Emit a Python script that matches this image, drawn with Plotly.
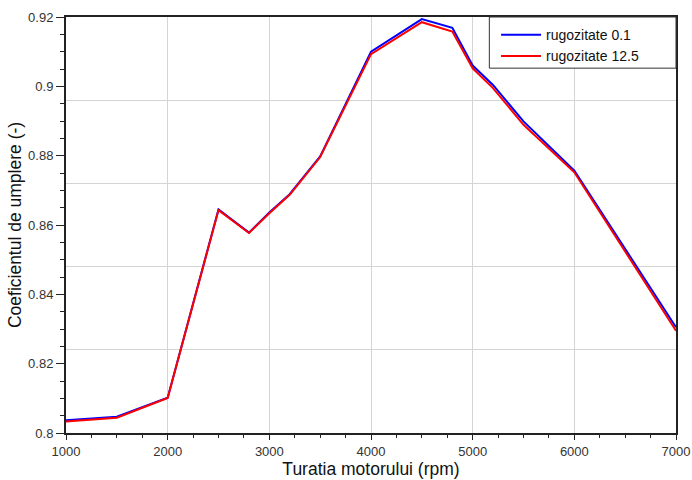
import plotly.graph_objects as go

rpm = [1000, 1500, 2000, 2500, 2800, 3000, 3200, 3500, 4000, 4500, 4800, 5000, 5200, 5500, 6000, 7000]
rug_01 = [0.8037, 0.8047, 0.8102, 0.8645, 0.8578, 0.8636, 0.8689, 0.8798, 0.9100, 0.9194, 0.9169, 0.9060, 0.9004, 0.8899, 0.8757, 0.8305]
rug_125 = [0.8033, 0.8044, 0.8101, 0.8643, 0.8577, 0.8634, 0.8687, 0.8796, 0.9093, 0.9185, 0.9158, 0.9052, 0.8995, 0.8889, 0.8752, 0.8295]

y_ticks = [0.8, 0.82, 0.84, 0.86, 0.88, 0.9, 0.92]
y_tick_text = ["0.8", "0.82", "0.84", "0.86", "0.88", "0.9", "0.92"]
y_grid = [0.824, 0.848, 0.872, 0.896]
x_ticks = [1000, 2000, 3000, 4000, 5000, 6000, 7000]

fig = go.Figure()
fig.add_trace(go.Scatter(x=rpm, y=rug_01, mode="lines", name="rugozitate 0.1",
                         line=dict(color="#0000ff", width=2)))
fig.add_trace(go.Scatter(x=rpm, y=rug_125, mode="lines", name="rugozitate 12.5",
                         line=dict(color="#ff0000", width=2)))
# helper trace so the grid-only overlay axis exists
fig.add_trace(go.Scatter(x=[None], y=[None], yaxis="y2", showlegend=False, hoverinfo="skip"))

# legend frame drawn as a box in paper coordinates
fig.add_shape(type="rect", xref="paper", yref="paper", x0=0.694, x1=1.0, y0=0.877, y1=1.0,
              line=dict(color="#333333", width=1), fillcolor="white", layer="above")

font_family = "Liberation Sans, Arial, sans-serif"
fig.update_layout(
    width=692, height=480,
    margin=dict(l=66, r=16, t=17, b=47),
    paper_bgcolor="white", plot_bgcolor="white",
    font=dict(family=font_family, color="#333333", size=13),
    showlegend=True,
    legend=dict(x=0.705, y=0.995, xanchor="left", yanchor="top",
                borderwidth=0, bgcolor="rgba(0,0,0,0)",
                font=dict(size=14, color="#111111"), itemwidth=40,
                tracegroupgap=0),
    xaxis=dict(range=[1000, 7000], tickvals=x_ticks, ticktext=[str(v) for v in x_ticks],
               showgrid=True, gridcolor="#d4d4d4", gridwidth=1, automargin=False,
               showline=True, linecolor="#222222", linewidth=2, mirror=True,
               ticks="outside", ticklen=5, tickcolor="#222222",
               minor=dict(dtick=250, tick0=1000, ticks="outside", ticklen=3, tickcolor="#222222", showgrid=False),
               zeroline=False,
               title=dict(text="Turatia motorului (rpm)", font=dict(size=17.5, color="#111111"), standoff=3),
               tickfont=dict(size=13, color="#333333")),
    yaxis=dict(range=[0.8, 0.92], tickvals=y_ticks, ticktext=y_tick_text,
               showgrid=False, automargin=False,
               showline=True, linecolor="#222222", linewidth=2, mirror=True,
               ticks="outside", ticklen=8, tickcolor="#222222",
               minor=dict(dtick=0.005, tick0=0.8, ticks="outside", ticklen=4, tickcolor="#222222", showgrid=False),
               zeroline=False,
               title=dict(text="Coeficientul de umplere (-)", font=dict(size=17.5, color="#111111"), standoff=2),
               tickfont=dict(size=13, color="#333333")),
    yaxis2=dict(range=[0.8, 0.92], overlaying="y", side="left", anchor="x",
                tickvals=y_grid, showticklabels=False, ticks="", automargin=False,
                showgrid=True, gridcolor="#d4d4d4", gridwidth=1,
                showline=False, zeroline=False),
)

fig.write_html("out.html",
               config={"displayModeBar": False},
               post_script="document.body.style.margin='0px';document.body.style.overflow='hidden';")
